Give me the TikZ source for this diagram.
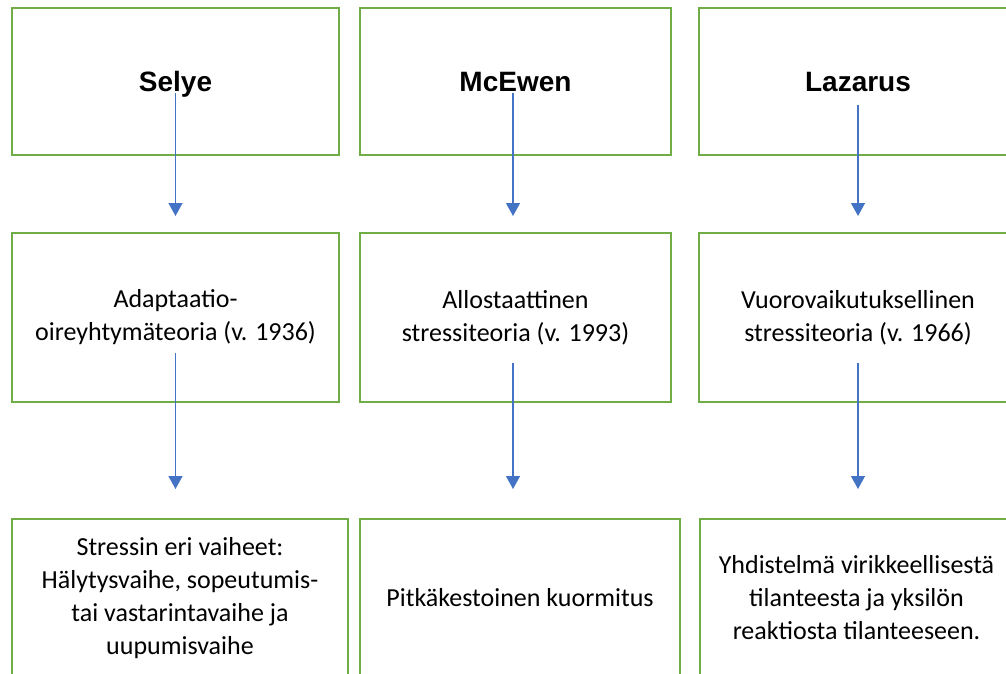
\documentclass[tikz,border=0pt]{standalone}
\usepackage{fontspec}
\setmainfont{Carlito}
\newfontfamily\headfont{Liberation Sans}
\usetikzlibrary{arrows.meta,positioning}
\definecolor{boxgreen}{HTML}{70AD47}
\definecolor{arrowblue}{HTML}{4472C4}

\begin{document}
\begin{tikzpicture}[node distance=21pt, >={Triangle[width=14pt,length=13pt]},
  box/.style={draw=boxgreen, line width=2.8pt, align=center, inner sep=0pt, outer sep=0pt},
  head/.style={box, minimum height=147pt, text height=26pt, text depth=5pt, font=\headfont\bfseries\fontsize{28}{33}\selectfont},
  theory/.style={box, minimum height=169pt, font=\fontsize{26}{33}\selectfont},
  result/.style={box, minimum height=158pt, font=\fontsize{26}{33}\selectfont},
  link/.style={->, draw=arrowblue, line width=1.3pt}]
\useasboundingbox (0,0) rectangle (1006pt,-674pt);
% names
\node[head, minimum width=327pt] (selye) at (175.5pt,-81.5pt) {Selye};
\node[head, minimum width=311pt, right=of selye] (mcewen) {McEwen};
\node[head, minimum width=318pt, right=28pt of mcewen] (lazarus) {Lazarus};
% theories
\node[theory, minimum width=327pt, below=78pt of selye] (adapt) {Adaptaatio-\\oireyhtymäteoria (v. 1936)};
\node[theory, minimum width=311pt, below=78pt of mcewen] (allo) {Allostaattinen\\stressiteoria (v. 1993)};
\node[theory, minimum width=318pt, below=78pt of lazarus] (vuoro) {Vuorovaikutuksellinen\\stressiteoria (v. 1966)};
% contents
\node[result, minimum width=336pt, below=117pt of adapt, xshift=4.5pt] (phases) {Stressin eri vaiheet:\\Hälytysvaihe, sopeutumis-\\tai vastarintavaihe ja\\uupumisvaihe};
\node[result, minimum width=320pt, below=117pt of allo, xshift=4.5pt] (load) {Pitkäkestoinen kuormitus};
\node[result, minimum width=313pt, below=117pt of vuoro, xshift=-1.5pt] (mix) {Yhdistelmä virikkeellisestä\\tilanteesta ja yksilön\\reaktiosta tilanteeseen.};
\draw[link] ([yshift=-11.5pt]selye.center) -- ([yshift=17pt]adapt.north);
\draw[link] ([xshift=-2.5pt,yshift=-11.5pt]mcewen.center) -- ([xshift=-2.5pt,yshift=17pt]allo.north);
\draw[link] ([yshift=-23.5pt]lazarus.center) -- ([yshift=17pt]vuoro.north);
\draw[link] ([yshift=-35.5pt]adapt.center) -- ([yshift=30pt,xshift=-4.5pt]phases.north);
\draw[link] ([xshift=-2.5pt,yshift=-45.5pt]allo.center) -- ([xshift=-7pt,yshift=30pt]load.north);
\draw[link] ([yshift=-45.5pt]vuoro.center) -- ([xshift=1.5pt,yshift=30pt]mix.north);
\end{tikzpicture}
\end{document}
